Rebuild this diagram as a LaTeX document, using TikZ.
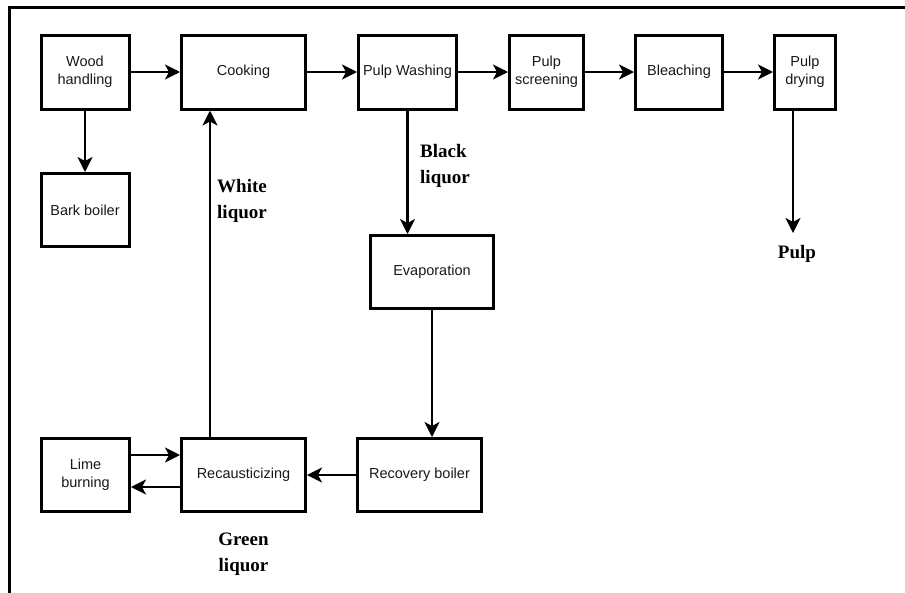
\documentclass[tikz,border=0pt]{standalone}
\usepackage{fontspec}
\setmainfont{Liberation Serif}
\newfontfamily\boxfont{Liberation Sans}
\usetikzlibrary{arrows.meta}
\begin{document}
\begin{tikzpicture}[x=1pt,y=-1pt,
  procbox/.style={draw, line width=3pt, inner sep=0pt, align=center,
    font=\boxfont\fontsize{14.5}{18}\selectfont, text=black!90},
  flow/.style={line width=2.2pt, -{Stealth[length=15pt,width=15pt,inset=4pt]}},
  lbl/.style={font=\bfseries\fontsize{19}{26}\selectfont, inner sep=0pt}]
\useasboundingbox (0,0) rectangle (905,592);
\fill[white] (0,0) rectangle (905,592);
\draw[line width=3pt] (9.5,600) -- (9.5,7) -- (910,7);
% top row
\node[procbox, minimum width=88, minimum height=74] (wood) at (85,72) {Wood\\handling};
\node[procbox, minimum width=124, minimum height=74] (cook) at (243.5,72) {Cooking};
\node[procbox, minimum width=98, minimum height=74] (wash) at (407.5,72) {Pulp Washing};
\node[procbox, minimum width=74, minimum height=74] (screen) at (546.5,72) {Pulp\\screening};
\node[procbox, minimum width=87, minimum height=74] (bleach) at (679,72) {Bleaching};
\node[procbox, minimum width=61, minimum height=74] (dry) at (805,72) {Pulp\\drying};
% others
\node[procbox, minimum width=88, minimum height=73] (bark) at (85,210) {Bark boiler};
\node[procbox, minimum width=123, minimum height=73] (evap) at (432,272) {Evaporation};
\node[procbox, minimum width=88, minimum height=73] (lime) at (85.5,475) {Lime\\burning};
\node[procbox, minimum width=124, minimum height=73] (recaus) at (243.5,475) {Recausticizing};
\node[procbox, minimum width=124, minimum height=73] (recov) at (419.5,475) {Recovery boiler};
% labels
\node[lbl, align=left, anchor=west] (white) at (217,200.5) {White\\liquor};
\node[lbl, align=left, anchor=west] (black) at (420,165.5) {Black\\liquor};
\node[lbl, align=center] (green) at (243.5,554.5) {Green\\liquor};
\node[lbl, anchor=base] (pulp) at (797,258) {Pulp};
\coordinate (pulpend) at (793,233);
% arrows
\draw[flow] (wood.east) -- (cook.west);
\draw[flow] (cook.east) -- (wash.west);
\draw[flow] (wash.east) -- (screen.west);
\draw[flow] (screen.east) -- (bleach.west);
\draw[flow] (bleach.east) -- (dry.west);
\draw[flow] (wood.south) -- (bark.north);
\draw[flow] ([xshift=-33.5pt]recaus.north) -- ([xshift=-33.5pt]cook.south);
\draw[flow] (wash.south) -- (wash.south |- evap.north);
\draw[flow] (evap.south) -- (evap.south |- recov.north);
\draw[flow] (recov.west) -- (recaus.east);
\draw[flow] ([yshift=20pt]lime.east) -- ([yshift=20pt]lime.east -| recaus.west);
\draw[flow] ([yshift=-12pt]recaus.west) -- ([yshift=-12pt]recaus.west -| lime.east);
\draw[flow] ([xshift=-12pt]dry.south) -- (pulpend);
\end{tikzpicture}
\end{document}
